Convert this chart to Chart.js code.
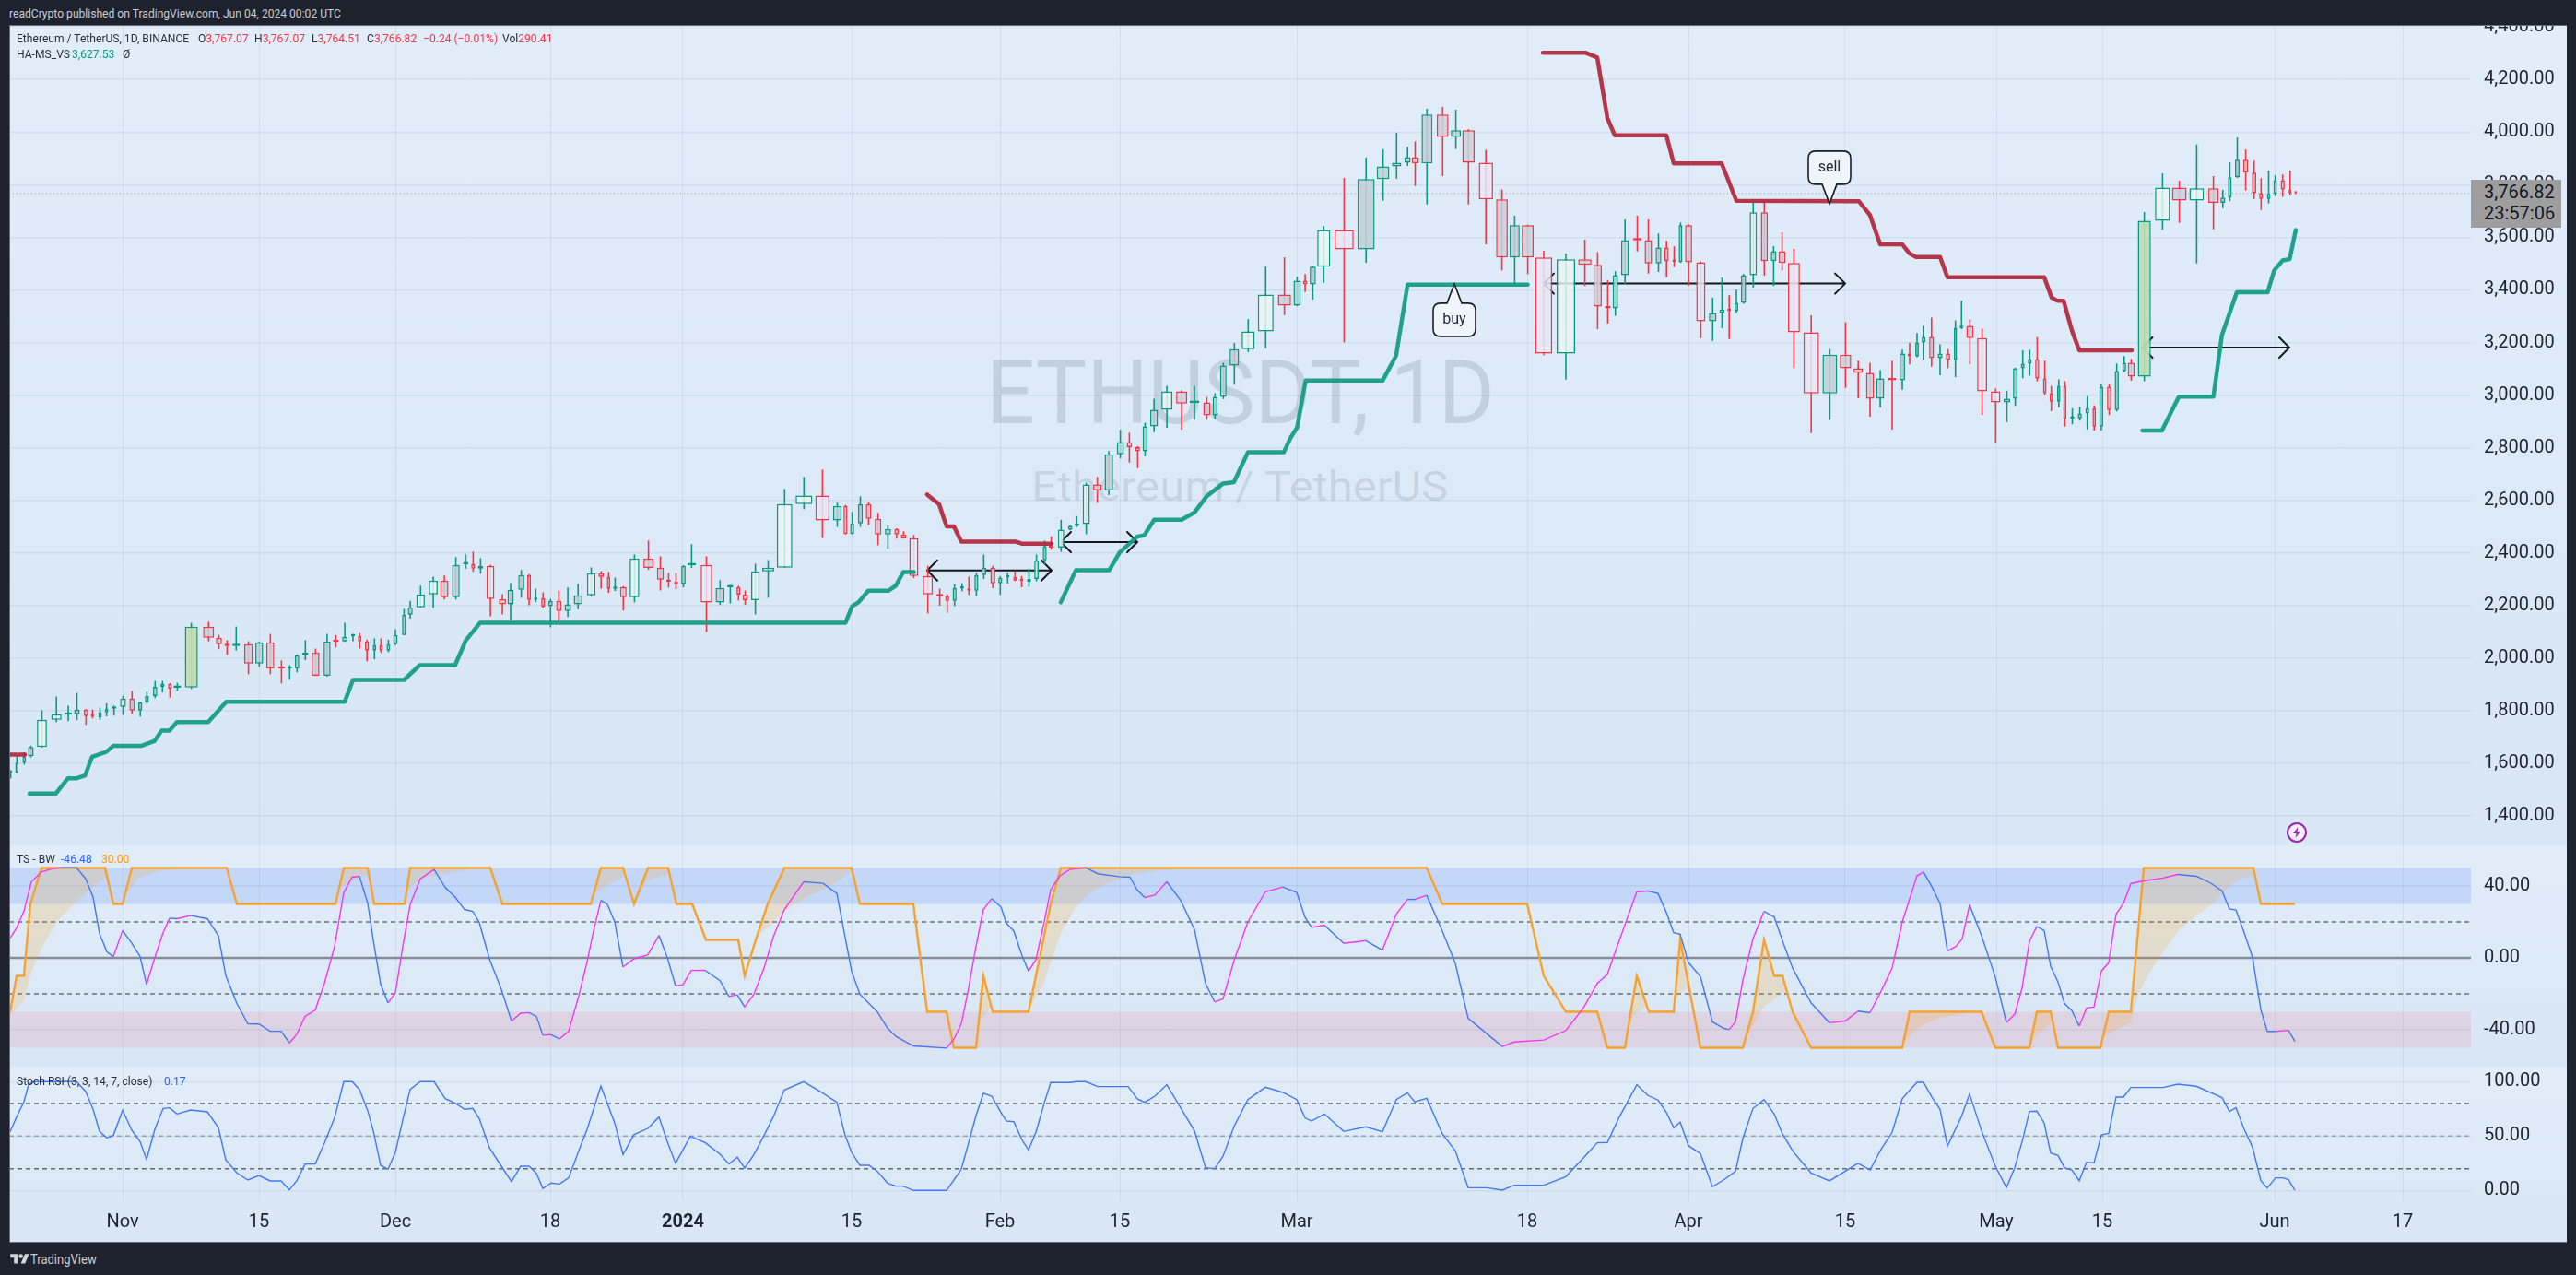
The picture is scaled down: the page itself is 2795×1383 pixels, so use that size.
<!DOCTYPE html>
<html><head><meta charset="utf-8">
<style>
html,body{margin:0;padding:0;background:#1e222d;overflow:hidden;width:2795px;height:1383px;font-family:Roboto,sans-serif}
.abs{position:absolute;white-space:nowrap}
.pane{position:absolute;left:10px;width:2775px;background:linear-gradient(180deg,#e1edf9,#d8e6f5)}
canvas{position:absolute;left:10px;display:block}
.t{position:absolute;white-space:nowrap;font-size:13px;color:#2a2e39;line-height:16px;transform:scaleX(.93);transform-origin:left center}
.r{color:#f23645}.g{color:#089981}.b{color:#2962ff}.o{color:#ff9800}
</style>
<script src="https://cdn.jsdelivr.net/npm/chart.js@4/dist/chart.umd.js"></script>
</head><body>
<div class="t" style="left:10px;top:7px;color:#c9cbd2">readCrypto published on TradingView.com, Jun 04, 2024 00:02 UTC</div>
<div class="pane" style="top:27px;height:890px"></div>
<div class="pane" style="top:917px;height:240px"></div>
<div class="pane" style="top:1157px;height:191px"></div>
<div class="abs" style="left:10px;top:27px;width:2775px;height:1321px;box-sizing:border-box;border:1px solid #6a6d78;border-right:0;z-index:6;pointer-events:none"></div>
<div class="abs" id="wm1" style="left:1070px;top:370px;font-size:96px;line-height:112px;color:rgba(42,60,90,.15);transform:scaleX(.97);transform-origin:left center">ETHUSDT, 1D</div>
<div class="abs" id="wm2" style="left:1119px;top:501px;font-size:45px;line-height:54px;color:rgba(42,60,90,.13);transform:scaleX(1.09);transform-origin:left center">Ethereum / TetherUS</div>
<canvas id="cMain" width="2775" height="890" style="top:27px"></canvas>
<canvas id="cTsi" width="2775" height="240" style="top:917px"></canvas>
<canvas id="cStoch" width="2775" height="191" style="top:1157px"></canvas>
<div class="t" style="left:18px;top:34px">Ethereum / TetherUS, 1D, BINANCE</div>
<div class="t" style="left:215px;top:34px">O<span class="r">3,767.07</span></div>
<div class="t" style="left:276px;top:34px">H<span class="r">3,767.07</span></div>
<div class="t" style="left:338px;top:34px">L<span class="r">3,764.51</span></div>
<div class="t" style="left:398px;top:34px">C<span class="r">3,766.82</span></div>
<div class="t r" style="left:459px;top:34px">−0.24 (−0.01%)</div>
<div class="t" style="left:545px;top:34px">Vol<span class="r">290.41</span></div>
<div class="t" style="left:18px;top:51px">HA-MS_VS</div>
<div class="t g" style="left:78px;top:51px">3,627.53</div>
<div class="t" style="left:133px;top:51px">Ø</div>
<div class="t" style="left:18px;top:924px">TS - BW</div>
<div class="t b" style="left:66px;top:924px">-46.48</div>
<div class="t o" style="left:110px;top:924px">30.00</div>
<div class="t" style="left:18px;top:1165px">Stoch RSI (3, 3, 14, 7, close)</div>
<div class="t b" style="left:178px;top:1165px">0.17</div>
<div class="abs" style="left:2681px;top:195px;width:98px;height:52px;background:#9e9e9e;z-index:5;color:#131722;font-size:20px;line-height:23px">
<div style="position:absolute;left:14px;top:2px">3,766.82</div><div style="position:absolute;left:14px;top:25px">23:57:06</div></div>
<svg class="abs" style="left:2480px;top:891px;z-index:5" width="24" height="24" viewBox="0 0 24 24"><circle cx="12" cy="12" r="10" fill="#f3eef8" stroke="#9c27b0" stroke-width="2"/><path d="M13.5 6 8 13h3.5l-1 5L16 11h-3.5z" fill="#9c27b0"/></svg>
<svg class="abs" style="left:11px;top:1358px" width="21" height="16" viewBox="0 0 36 28"><path fill="#d1d4dc" d="M14 22H7V11H0V4h14v18zM28 22h-8l7.5-18h8L28 22z"/><circle cx="20" cy="8" r="4" fill="#d1d4dc"/></svg>
<div class="t" style="left:33px;top:1358px;color:#c9cbd2;font-size:14px">TradingView</div>
<script>
// ---------- sessions (Oct 19 2023 .. Jun 4 2024), position on the reference's non-uniform time axis ----------
const sessionPos=[11.6,18.3,26.3,33.5,45.5,61.2,74.1,83.5,93.3,100.4,
108.5,115.6,123.7,133.5,143.3,152.2,159.4,168.3,176.3,184.4,
192.4,207.6,226.3,237.5,246.4,256.3,269.6,281.3,293.3,305.4,
314.3,322.3,331.3,342.4,354.9,364.3,374.1,383,390.2,398.2,
406.3,413.4,421.4,429,438.4,445.1,456.3,470.1,482.1,494.6,
505.4,513.4,521.4,532.1,545.1,554,565.6,574.1,581.3,589.3,
597.3,606.3,616.1,627.2,641.5,652.2,660.3,667.4,676.3,688.4,
703.6,716.5,725.4,733.5,741.5,750.4,766.5,781.3,792.4,801.3,
808.5,819.6,833.5,851.3,872.3,892.4,908.5,917.4,924.6,933.5,
942.4,952.7,963.4,972.8,980.4,991.5,1006.7,1019.6,1027.7,1035.7,
1043.8,1051.3,1059.4,1067.4,1077.2,1085.3,1093.3,1101.3,1108.5,1116.5,
1124.6,1133.5,1140.6,1151.3,1161.2,1168.3,1178.6,1190.6,1203.1,1215.6,
1225.4,1234.4,1242.4,1252.2,1266.1,1282.1,1296,1309.4,1318.3,1327.3,
1339.3,1354.3,1373.3,1393.6,1407.4,1416.1,1424.4,1436.3,1458.4,1482.2,
1500.6,1515.3,1527.2,1535.5,1548.3,1565.3,1579.6,1593.3,1612.2,1629.6,
1643.4,1657.6,1675,1699,1719.6,1733.4,1744.4,1752.7,1763.2,1776.5,
1788.5,1799.5,1808.2,1816.5,1823.4,1832.1,1845.4,1858.3,1868.4,1876.2,
1884,1891.8,1902.3,1914.3,1924.4,1933.6,1946.4,1965.2,1985.4,2002.4,
2016.2,2029,2040.1,2053,2064,2072,2080,2087.2,2095.8,2105,
2113.6,2121.7,2128.3,2137.4,2150.6,2165.3,2177.5,2186.6,2194.7,2202.3,
2210.4,2218.6,2225.7,2233.8,2240.4,2248.5,2256.6,2264.7,2272.3,2279.9,
2288.5,2296.7,2304.8,2312.4,2326.6,2346.4,2364.6,2383.4,2401.6,2411.8,
2419.4,2427.5,2436.6,2445.7,2453.3,2461.5,2468.6,2476.7,2484.8,2490.9];
const opens=[1565,1565,1602,1627,1662,1765,1785,1786,1804,1780,
1775,1793,1807,1814,1846,1800,1832,1856,1891,1902,
1887,1888,2119,2077,2053,2046,2053,1979,2060,1962,
1960,1961,2011,2021,1933,2064,2063,2083,2084,2063,
2028,2049,2028,2053,2088,2165,2193,2242,2295,2232,
2357,2358,2340,2351,2225,2204,2260,2316,2221,2228,
2197,2218,2179,2204,2239,2323,2309,2263,2270,2232,
2379,2344,2298,2290,2281,2353,2354,2211,2269,2270,
2242,2220,2330,2344,2586,2618,2523,2579,2472,2512,
2586,2530,2470,2491,2470,2456,2312,2242,2235,2218,
2264,2265,2256,2316,2344,2284,2306,2309,2295,2290,
2301,2372,2425,2420,2488,2502,2509,2660,2637,2775,
2821,2802,2786,2881,2944,3014,2970,2972,2923,2993,
3112,3175,3242,3382,3340,3435,3421,3488,3628,3554,
3821,3870,3884,3905,3881,4067,3982,4007,3884,3744,
3523,3646,3523,3158,3516,3495,3337,3330,3456,3590,
3589,3501,3561,3509,3505,3646,3505,3281,3312,3325,
3319,3351,3456,3695,3509,3547,3502,3239,3006,3154,
3102,3084,2986,3063,3056,3158,3147,3200,3221,3140,
3158,3133,3255,3263,3217,3014,2972,2986,3102,3119,
3137,3063,3007,2975,3035,2911,2912,2930,2950,2880,
3032,2943,3091,3123,3070,3663,3789,3740,3786,3731,
3751,3828,3895,3846,3768,3746,3765,3817,3782,3767.07];
const highs=[1573,1626,1642,1667,1801,1854,1819,1868,1806,1804,
1811,1828,1819,1857,1875,1835,1871,1913,1913,1905,
1906,2134,2138,2088,2068,2120,2064,2063,2092,1991,
1973,2014,2068,2036,2092,2088,2134,2092,2095,2070,
2075,2075,2070,2110,2187,2218,2275,2310,2314,2384,
2394,2405,2380,2354,2243,2285,2335,2319,2264,2250,
2225,2257,2268,2282,2345,2331,2328,2306,2274,2394,
2447,2387,2324,2324,2353,2433,2387,2296,2278,2275,
2257,2359,2373,2643,2689,2717,2591,2582,2556,2615,
2593,2552,2506,2494,2482,2468,2351,2264,2242,2281,
2285,2310,2324,2394,2351,2312,2324,2331,2312,2338,
2394,2447,2463,2526,2504,2540,2667,2689,2787,2868,
2857,2806,2895,2986,3035,3018,3035,2993,3007,3123,
3198,3289,3489,3524,3450,3460,3491,3643,3826,3903,
3935,3998,3945,3965,4089,4096,4085,4011,3933,3782,
3682,3648,3549,3538,3591,3544,3436,3471,3668,3682,
3668,3615,3587,3566,3656,3650,3508,3370,3447,3380,
3401,3460,3733,3733,3566,3619,3556,3303,3175,3277,
3131,3123,3095,3131,3173,3199,3236,3263,3295,3193,
3175,3284,3359,3288,3253,3025,3017,3104,3170,3172,
3221,3131,3035,3060,3053,2950,2955,2996,2961,3043,
3043,3120,3148,3138,3696,3843,3815,3953,3833,3780,
3885,3980,3934,3892,3825,3854,3836,3839,3854,3767.07];
const lows=[1542,1562,1595,1623,1659,1757,1760,1764,1746,1771,
1764,1778,1781,1784,1788,1778,1827,1848,1869,1850,
1876,1883,2064,2034,2012,2029,1939,1967,1939,1904,
1918,1946,1992,1932,1930,2041,2062,2064,2036,1988,
1995,2020,2023,2049,2087,2150,2192,2191,2223,2223,
2339,2328,2321,2159,2166,2145,2229,2201,2213,2192,
2117,2140,2156,2185,2234,2264,2248,2255,2181,2212,
2336,2257,2268,2262,2269,2343,2099,2202,2208,2219,
2203,2166,2229,2343,2566,2457,2499,2470,2470,2499,
2506,2429,2415,2454,2454,2304,2170,2199,2173,2198,
2254,2240,2236,2301,2266,2240,2283,2293,2269,2271,
2292,2357,2412,2404,2486,2498,2471,2591,2620,2760,
2743,2722,2767,2859,2876,2869,2906,2906,2909,2985,
3041,3164,3178,3304,3338,3392,3363,3427,3201,3503,
3739,3822,3871,3795,3725,3833,3936,3725,3573,3474,
3415,3460,3152,3059,3415,3251,3272,3301,3423,3546,
3462,3468,3448,3487,3504,3416,3216,3206,3255,3213,
3312,3347,3409,3454,3415,3474,3102,2856,2906,3027,
2988,2918,2953,2869,3020,3117,3144,3134,3108,3076,
3103,3068,3251,3117,2924,2819,2897,2959,3064,3074,
3053,3001,2939,2953,2880,2889,2903,2869,2865,2865,
2924,2938,3088,3055,3053,3628,3655,3501,3630,3711,
3737,3826,3778,3746,3704,3729,3757,3754,3760,3764.51];
const closes=[1567,1602,1627,1662,1765,1786,1787,1804,1779,1778,
1793,1807,1814,1846,1800,1832,1856,1891,1902,1884,
1889,2119,2077,2053,2046,2053,1979,2060,1961,1960,
1962,2011,2021,1933,2063,2062,2081,2085,2063,2028,
2049,2028,2053,2088,2165,2193,2242,2295,2232,2354,
2359,2340,2351,2225,2204,2260,2316,2221,2228,2195,
2218,2179,2204,2239,2323,2309,2263,2270,2232,2379,
2343,2298,2290,2281,2351,2355,2211,2267,2271,2241,
2220,2330,2344,2586,2618,2523,2579,2472,2512,2586,
2530,2470,2491,2470,2455,2312,2242,2235,2218,2267,
2266,2256,2316,2344,2284,2305,2310,2294,2293,2301,
2372,2425,2420,2488,2502,2509,2660,2637,2775,2821,
2802,2786,2881,2944,3014,2968,2973,2923,2993,3112,
3175,3242,3382,3340,3435,3421,3488,3628,3554,3821,
3870,3884,3905,3881,4067,3982,4007,3884,3744,3523,
3646,3523,3158,3516,3495,3337,3330,3456,3589,3588,
3501,3561,3509,3507,3646,3505,3281,3312,3325,3319,
3351,3456,3695,3509,3547,3502,3239,3006,3154,3102,
3084,2986,3063,3056,3158,3147,3200,3221,3140,3158,
3133,3255,3263,3217,3014,2972,2986,3102,3119,3137,
3063,3007,2975,3035,2910,2913,2930,2950,2880,3032,
2943,3091,3123,3070,3663,3789,3740,3786,3731,3751,
3828,3895,3846,3768,3746,3765,3817,3782,3768,3766.82];
// volume classes of sessions, 1-based
const quietSessions=[2,5,6,14,26,47,48,65,70,82,83,84,85,111,114,117,125,132,133,138,154,173,216,218];
const heavySessions=[25,54,77,86,88,96,97,139,149,153,167,177,178,195,196];
const climaxSessions=[22,215];
// HA-MS_VS stops (null = break)
const bullStopX=[32,60.7,73.7,83.5,92.4,100,115.2,122.8,153.1,167.4,175.4,183.9,192,225.9,245.5,374,383,438.4,455.4,493.8,505.4,521,917.4,924.6,932,942,963.8,971.9,980,991.5,991.5,
1150.9,1167.4,1203.6,1214.7,1233.5,1241.5,1252.3,1282.1,1296,1309.4,1327.2,1338.8,1354,1392.9,1400,1407.4,1416.6,1500.1,1514.8,1527.2,1657.6,1657.6,
2324.5,2345.8,2364.1,2401.6,2410.8,2427,2460.4,2467.5,2476.7,2484.3,2490.9];
const bullStopY=[1485,1485,1543,1543,1554,1625,1643,1666,1666,1684,1724,1724,1757,1757,1834,1834,1917,1917,1973,1973,2067,2134.5,2134.5,2197,2214,2256,2256,2275,2327,2327,null,
2212,2334.5,2334.5,2401,2461,2467,2526,2526,2554,2616,2664,2669,2782.5,2782.5,2836,2877,3055,3055,3150,3420,3420,null,
2865,2865,2994,2994,3228,3391,3391,3474,3512,3517,3627.53];
const bearStopX=[10,27,27,1006,1019,1027,1035,1043,1102,1108.5,1141,1141,1674,1720,1733,1744,1752,1808,1816,1868,1884,2017,2029,2040,2064,2072,2079,2105,2113,2218,2226,2232,2239,2248,2256,2313];
const bearStopY=[1633,1633,null,2622,2585,2501,2501,2443,2443,2435,2435,null,4302,4302,4284,4053,3988,3988,3881,3881,3739,3737,3684,3573,3573,3538,3525,3525,3448,3448,3371,3359,3359,3246,3170,3170];
// TS - BW pane
const tsX=[11,18,26,34,45,57,66,83,93,101,108,116,123,133,143,152,159,168,177,184,192,207,225,237,245,257,269,281,293,305,314,322,331,342,352,363,373,382,390,399,405,413,421,429,437,445,456,471,483,494,504,513,520,531,544,555,565,574,582,589,598,607,617,628,637,644,652,659,667,676,688,703,715,724,733,741,750,765,781,791,800,808,818,829,839,851,872,893,908,917,924,933,
952,963,972,991,1027,1035,1043,1050,1059,1067,1076,1086,1092,1100,1109,1116,1124,1133,1140,1150,1161,1178,1191,1214,1226,1234,1242,1253,1266,1281,1296,1308,1318,1327,1339,1354,1373,1392,1407,1416,1423,1437,1458,1482,1500,1515,1527,1535,1548,1565,1579,1593,1630,1643,1675,1699,1718,1733,1744,1757,1776,1788,1799,1808,1816,1823,1832,1845,1858,1870,
1876,1883,1891,1902,1914,1925,1935,1945,1965,1985,2002,2016,2029,2041,2053,2064,2080,2087,2096,2105,2113,2122,2129,2137,2150,2165,2177,2186,2194,2202,2210,2218,2225,2233,2240,2248,2256,2264,2272,2280,2288,2296,2304,2312,2326,2347,2363,2383,2398,2411,2419,2426,2435,2444,2453,2460,2469,2483,2490];
const tsValue=[11.1,16.6,26,42.3,47.8,49.7,50.2,50.2,44,33.7,13.5,3.3,.7,15.2,8.1,.7,-14.7,.3,14,22.1,21.8,23.5,21.8,12.3,-9.9,-25.4,-36.7,-36.8,-40.8,-40.8,-47.3,-42.5,-32.5,-29,-14.2,6.3,36.3,44.9,45.4,30.3,9.8,-14.6,-25,-19.4,6.3,29.5,44,49.2,39.2,33.7,26.9,25.9,19.7,-.5,-17.6,-35.1,-30.7,-30.5,-32.5,-43,-42.7,-45.1,-40.8,-21.1,-2.2,14.9,32,29.8,20,-5,-.5,1.7,12.5,.3,-15.6,-14.9,-7,-6.9,-12.5,-21.4,-20.6,-27.4,-20.2,-5.7,11.5,26.9,42.3,41.5,35.8,11.5,-7.4,-20.2,
-30.1,-39.1,-43.7,-49,-50.2,-45.1,-36.8,-19.4,6.3,26.9,32.9,28.3,19.2,14.9,1.2,-7.4,-1,20,38,45.7,49.2,50.2,46.8,45.2,44.9,37.7,33.6,34.9,42.3,32,15.8,-14.2,-24.5,-22.8,-1.4,20,36.8,39.4,36.3,22.6,17,18.2,8.1,9.6,4.3,24.3,32.5,32.5,34.8,14.9,-3.1,-33.6,-49.3,-46.8,-45.7,-40.4,-27.9,-14.2,-9.1,9.8,36.8,37.2,35.8,25.2,14,13.2,-2.6,-10.4,-35.6,-39.1,
-39.9,-35.6,-12.5,10.6,25.9,22.8,8.1,-5.7,-25,-36.1,-35.1,-29.6,-30.5,-18.5,-5.7,20,45.6,47.8,39.7,30.3,3.8,6.3,10.6,29.5,12.3,-10.8,-36,-31.3,-16.8,9.3,17.5,15.2,-4.8,-13.4,-25.4,-29.3,-37.9,-27.9,-27.4,-7.4,-2.6,24.3,30.3,41.3,42.8,44.4,46.4,45.4,41.8,37.2,27.2,26.6,14,.3,-28.8,-40.9,-40.9,-40.3,-46.48];
const bwX=[11,18,26,33,45,114,123,133,143,246,257,364,373,399,406,439,445,532,545,641,652,676,688,703,725,734,751,766,801,808,820,833,851,924,933,991,1006,1027,1035,1059,1067,1077,1116,1140,1151,1548,1565,1657,1675,1699,1733,1744,1763,1776,1789,1816,1823,1845,1891,1902,1914,1925,1934,1945,1965,2064,2072,2150,2165,2202,2210,2225,2233,2279,2288,2312,2326,2445,2453,2490];
const bwValue=[-30,-10,-10,30,50,50,30,30,50,50,30,30,50,50,30,30,50,50,30,30,50,50,30,50,50,30,30,10,10,-10,10,30,50,50,30,30,-30,-30,-50,-50,-10,-30,-30,30,50,50,30,30,-10,-30,-30,-50,-50,-10,-30,-30,10,-50,-50,-30,10,-10,-10,-30,-50,-50,-30,-30,-50,-50,-30,-30,-50,-50,-30,-30,50,50,30,30];
// slow edge of the shaded TS-BW zones
const bwSlowEdges=[
 [[11,26,33,45,63,81,96,114,116],[-32.2,-23.6,-9.1,5.5,20.9,30.3,37.2,44.4,45.4]],
 [[135,150,174,210,246],[34,44.4,48.3,49.7,50]],
 [[368,384,401],[39,43.2,46.6]],
 [[441,456,480,510,532],[37,44,46.6,49.2,50]],
 [[644,659,676,679],[35,40.6,44.9,45]],
 [[690,703,725,726],[33,43.2,46.6,47.8]],
 [[821,839,851,872,893,911,925],[12,19.2,26,32.9,38,43.2,49.2]],
 [[1062,1070,1075],[-35,-31,-27]],
 [[1117,1131,1140,1152,1167,1179,1197,1224,1254,1290,1350],[-28,-15.9,-2.2,14.9,27.8,34.6,40.6,45.7,48.3,49.5,50]],
 [[1767,1773,1787],[-38,-31,-27]],
 [[1817,1825,1832],[-24,-18.5,-16.8]],
 [[1895,1903,1914,1924,1934,1939],[-44.2,-36.5,-27,-23.6,-19.4,-19]],
 [[2066,2077,2089,2107,2131,2150],[-46.8,-40.8,-36.5,-33,-31,-30]],
 [[2204,2215,2225,2227],[-45,-40.8,-36.5,-35]],
 [[2282,2293,2312,2320,2329,2344,2365,2383,2401,2422,2434,2445],[-44,-40.8,-36,-21,-10.8,1.2,15.8,23.5,30.3,41.5,44.4,46]]
];
const tsBands=[[30,50],[-50,-30]];
const tsGuides=[20,-20];
// Stoch RSI pane
const stochX=[11,18,26,31,37,83,93,101,108,116,123,133,143,152,159,168,177,184,192,207,225,237,245,257,269,281,293,305,314,322,331,342,352,363,373,382,390,399,405,413,421,429,437,445,456,471,483,494,504,513,520,531,544,555,565,574,582,589,598,607,617,628,637,644,652,659,667,676,688,703,715,724,733,749,765,781,791,800,808,818,829,839,851,872,893,908,917,924,933,
943,952,963,972,980,991,1027,1035,1043,1050,1059,1067,1076,1086,1092,1100,1109,1116,1124,1133,1140,1161,1168,1178,1191,1224,1234,1242,1253,1266,1281,1296,1308,1318,1327,1339,1354,1373,1392,1407,1416,1423,1437,1458,1482,1500,1515,1527,1535,1548,1565,1579,1593,1613,1630,1643,1675,1699,1718,1733,1744,1757,1776,1788,1799,1808,1816,1823,1832,1845,1858,1870,
1883,1891,1902,1914,1925,1934,1945,1965,1985,2016,2029,2041,2053,2064,2080,2087,2096,2105,2113,2128,2137,2150,2165,2177,2186,2194,2202,2210,2218,2225,2233,2240,2248,2256,2264,2272,2280,2288,2296,2304,2312,2347,2363,2383,2398,2411,2419,2426,2435,2444,2453,2460,2469,2477,2483,2490];
const stochValue=[54,67.5,81.6,97.2,100,100,91,74.6,54.2,48.3,50.6,73.7,55.4,44.9,28.5,56.2,75.4,76,70.3,74,72.3,57.6,28,16.1,9.6,13.8,8.8,8.8,.6,9,24.3,24.3,43.5,66.7,100,100,92.9,73.2,54.8,23.2,19.5,35,64.7,92.9,100,100,84.5,80.2,74.6,75.4,66.1,39.3,22.3,8.2,22.3,22.3,15.8,1.7,6.8,5.9,11.6,36.4,56.2,74.6,95.8,80.2,61.9,33,51.4,57,67.5,44.9,24.9,49.7,44,33.6,24.3,30.5,20.6,33,50.6,67.5,92.4,100,89.3,81.1,50.6,35,23.2,
23.2,17.5,6.8,4,4,0,0,9.6,19.5,40.7,68.9,89.3,86.7,71.8,63.8,63.3,46.3,37.3,53.4,80.2,99.2,99.2,100,100,95.5,95.5,84.2,81.1,86.7,97.2,76,54.8,20.9,20.1,31.4,59,83.6,94.9,90.1,83.6,66.7,63.8,70.3,54.2,58.5,54,83.6,89.8,81.4,84.7,52,36.4,2.5,2.5,.3,4.8,4.8,12.7,29.9,43.8,44.1,67.5,97.2,87.3,83.1,71.8,57.6,62.7,41.2,33.9,3.4,9.6,
17.5,47.7,75.4,83.6,70.3,52,36.4,16.1,8.8,24.9,18.9,37.9,53.4,84.5,99.4,99.4,85.9,74.6,40.7,67.5,88.7,54.8,22.3,2.5,20.9,44.9,72.6,72.9,61.9,34.5,32.2,20.9,18.9,9,26,25.4,51.1,52.5,85.9,85.9,94.6,94.6,97.7,95.8,90.1,85.3,72.6,76,56.2,39.8,9,2.3,11.6,11.6,9.9,.17];
const stochGuides=[80,50,20];
// axes
const timeTickPos=[133,281,429,597,741,924,1085,1215,1407,1657,1832,2002,2166,2281,2468,2607];
const timeTickLabels=['Nov','15','Dec','18','2024','15','Feb','15','Mar','18','Apr','15','May','15','Jun','17'];
const priceTicks=[1400,1600,1800,2000,2200,2400,2600,2800,3000,3200,3400,3600,3800,4000,4200,4400];
const tsTicks=[40,0,-40];
const stochTicks=[100,50,0];
const lastPrice=3766.82;
// drawings
const rangeArrows=[[1006,1141,2333],[1151,1234,2441],[1675,2002,3424],[2324.5,2484,3181]];
const callouts=[['buy',1578,3423,1],['sell',1985,3728,-1]];

const X_MIN=10,X_MAX=2681,FONT='Roboto, sans-serif',TXT='#1f2430';
const GRID='rgba(110,130,165,0.13)';
const UP='#089981',DN='#f23645';
const zip=(xs,ys)=>xs.map((x,i)=>({x,y:ys[i]}));
const isUp=i=>closes[i]>=opens[i];
function bodyFill(i){const n=i+1;
  if(climaxSessions.includes(n))return 'rgba(190,219,178,.93)';
  if(isUp(i))return quietSessions.includes(n)?'rgba(236,245,243,.82)':'rgba(196,206,214,.88)';
  return heavySessions.includes(n)?'rgba(233,231,247,.85)':'rgba(204,208,220,.88)';}

class CandleController extends Chart.BarController{
  _calculateBarIndexPixels(index,ruler){
    const p=ruler.pixels,c=p[index];
    const prev=index>0?c-p[index-1]:p[index+1]-c;
    const next=index<p.length-1?p[index+1]-c:prev;
    const ds=this.getDataset();
    const size=ds.wick?1.6:Math.max(3,(prev+next)/2*1.1-4.5);
    return {base:c-size/2,head:c+size/2,center:c,size};
  }
}
CandleController.id='candle';
CandleController.defaults=Chart.BarController.defaults;
CandleController.overrides=Chart.BarController.overrides;
Chart.register(CandleController);

function xScale(showLabels){return {type:'linear',min:X_MIN,max:X_MAX,offset:false,
  position:'bottom',
  border:{display:false},
  grid:{color:GRID,lineWidth:1,drawTicks:false,offset:false},
  afterBuildTicks:s=>{s.ticks=timeTickPos.map(v=>({value:v}))},
  afterFit:s=>{s.height=showLabels?45:0;s.paddingLeft=0;s.paddingRight=0},
  ticks:{display:showLabels,autoSkip:false,maxRotation:0,minRotation:0,padding:11,color:TXT,
    callback:(v,i)=>timeTickLabels[i],
    font:c=>({family:FONT,size:20,weight:(c.tick&&c.tick.label==='2024')?'bold':'normal'})}};}
function yScale(min,max,list,fmt){return {type:'linear',position:'right',min,max,
  border:{display:false},
  grid:{color:GRID,lineWidth:1.5,drawTicks:false},
  afterBuildTicks:s=>{s.ticks=list.map(v=>({value:v}))},
  afterFit:s=>{s.width=104;s.paddingTop=0;s.paddingBottom=0},
  ticks:{autoSkip:false,padding:14,color:TXT,callback:fmt,font:{family:FONT,size:20}}};}
const money=v=>v.toLocaleString('en-US',{minimumFractionDigits:2,maximumFractionDigits:2});
const base={responsive:false,animation:false,devicePixelRatio:1,events:[],
  layout:{padding:0},plugins:{legend:{display:false},tooltip:{enabled:false}}};

const mainDecor={id:'mainDecor',
  beforeDatasetsDraw(ch){const {ctx,scales:{x,y},chartArea:a}=ch;ctx.save();
    ctx.setLineDash([1,3]);ctx.lineWidth=1;ctx.strokeStyle='#8d93a0';
    const py=y.getPixelForValue(lastPrice);ctx.beginPath();ctx.moveTo(a.left,py);ctx.lineTo(a.right,py);ctx.stroke();
    ctx.setLineDash([]);ctx.lineWidth=2;ctx.strokeStyle='#131722';ctx.lineCap='round';
    for(const [x1,x2,p] of rangeArrows){const l=x.getPixelForValue(x1),r=x.getPixelForValue(x2),m=y.getPixelForValue(p);
      ctx.beginPath();ctx.moveTo(l,m);ctx.lineTo(r,m);
      ctx.moveTo(l+11,m-11);ctx.lineTo(l,m);ctx.lineTo(l+11,m+11);
      ctx.moveTo(r-11,m-11);ctx.lineTo(r,m);ctx.lineTo(r-11,m+11);ctx.stroke();}
    ctx.restore();},
  afterDatasetsDraw(ch){const {ctx,scales:{x,y}}=ch;ctx.save();
    for(const [txt,xv,p,dir] of callouts){const tx=x.getPixelForValue(xv),ty=y.getPixelForValue(p);
      const w=46,h=36,gap=21,by=dir>0?ty+gap:ty-gap-h,l=tx-w/2,t=by,r=l+w,b=t+h,rad=8,n=8;
      ctx.beginPath();ctx.moveTo(l+rad,t);
      if(dir>0){ctx.lineTo(tx-n,t);ctx.lineTo(tx,ty);ctx.lineTo(tx+n,t);}
      ctx.lineTo(r-rad,t);ctx.quadraticCurveTo(r,t,r,t+rad);ctx.lineTo(r,b-rad);ctx.quadraticCurveTo(r,b,r-rad,b);
      if(dir<0){ctx.lineTo(tx+n,b);ctx.lineTo(tx,ty);ctx.lineTo(tx-n,b);}
      ctx.lineTo(l+rad,b);ctx.quadraticCurveTo(l,b,l,b-rad);ctx.lineTo(l,t+rad);ctx.quadraticCurveTo(l,t,l+rad,t);ctx.closePath();
      ctx.fillStyle='#eff5fb';ctx.fill();ctx.lineWidth=1.6;ctx.strokeStyle='#1b1e26';ctx.stroke();
      ctx.fillStyle='#1f2430';ctx.font='16px '+FONT;ctx.textAlign='center';ctx.textBaseline='middle';ctx.fillText(txt,tx,t+h/2);}
    ctx.restore();}};

new Chart(document.getElementById('cMain'),{type:'line',plugins:[mainDecor],
 data:{datasets:[
  {type:'line',label:'HA-MS_VS bull',data:zip(bullStopX,bullStopY),borderColor:'rgba(16,155,130,.93)',borderWidth:4.5,pointRadius:0,tension:0,borderCapStyle:'round',borderJoinStyle:'round',order:1,spanGaps:false},
  {type:'line',label:'HA-MS_VS bear',data:zip(bearStopX,bearStopY),borderColor:'rgba(178,40,60,.93)',borderWidth:4.5,pointRadius:0,tension:0,borderCapStyle:'round',borderJoinStyle:'round',order:1,spanGaps:false},
  {type:'candle',label:'bodies',data:sessionPos.map((x,i)=>({x,y:[opens[i],closes[i]]})),grouped:false,
    backgroundColor:c=>bodyFill(c.dataIndex),borderColor:c=>isUp(c.dataIndex)?UP:DN,borderWidth:1.5,borderSkipped:false,minBarLength:2.5,order:2},
  {type:'candle',wick:true,label:'wicks',data:sessionPos.map((x,i)=>({x,y:[lows[i],highs[i]]})),grouped:false,
    backgroundColor:c=>isUp(c.dataIndex)?UP:DN,borderWidth:0,order:3}
 ]},
 options:{...base,scales:{x:xScale(false),y:yScale(1287.7,4407.7,priceTicks,money)}}});

const orangeAt=x=>{for(let i=1;i<bwX.length;i++){if(x<=bwX[i]){const t=(x-bwX[i-1])/(bwX[i]-bwX[i-1]);return bwValue[i-1]+t*(bwValue[i]-bwValue[i-1]);}}return bwValue[bwValue.length-1]};
const fillSets=bwSlowEdges.map(([xs,ys])=>{
  const a=xs[0],b=xs[xs.length-1],pts=[{x:a,y:orangeAt(a)}];
  bwX.forEach((x,i)=>{if(x>a&&x<b)pts.push({x,y:bwValue[i]})});
  pts.push({x:b,y:orangeAt(b)});
  for(let i=xs.length-1;i>=0;i--)pts.push({x:xs[i],y:ys[i]});
  return {type:'line',data:pts,fill:'shape',backgroundColor:'rgba(255,152,0,.17)',borderWidth:0,pointRadius:0,tension:0,order:5};
});
const tsiDecor={id:'tsiDecor',beforeDatasetsDraw(ch){const {ctx,scales:{y},chartArea:a}=ch;ctx.save();
  tsBands.forEach(([lo,hi],i)=>{ctx.fillStyle=i===0?'rgba(41,98,255,.15)':'rgba(242,54,69,.11)';
    const t=y.getPixelForValue(hi),b=y.getPixelForValue(lo);ctx.fillRect(a.left,t,a.right-a.left,b-t);});
  ctx.setLineDash([5,4]);ctx.lineWidth=1.5;ctx.strokeStyle='#6d7078';
  tsGuides.forEach(v=>{const p=y.getPixelForValue(v);ctx.beginPath();ctx.moveTo(a.left,p);ctx.lineTo(a.right,p);ctx.stroke();});
  ctx.setLineDash([]);ctx.lineWidth=2.5;ctx.strokeStyle='#878b96';const z=y.getPixelForValue(0);ctx.beginPath();ctx.moveTo(a.left,z);ctx.lineTo(a.right,z);ctx.stroke();
  ctx.restore();}};
new Chart(document.getElementById('cTsi'),{type:'line',plugins:[tsiDecor],
 data:{datasets:[
  ...fillSets,
  {type:'line',label:'BW',data:zip(bwX,bwValue),borderColor:'#f7a22e',borderWidth:2.4,pointRadius:0,tension:0,order:2},
  {type:'line',label:'TS',data:zip(tsX,tsValue),borderColor:'#4477f2',borderWidth:1.4,pointRadius:0,tension:0,order:1,
    segment:{borderColor:c=>c.p1.parsed.y>c.p0.parsed.y?'#f536ee':'#4477f2'}}
 ]},
 options:{...base,scales:{x:xScale(false),y:yScale(-60.5,62.56,tsTicks,v=>v.toFixed(2))}}});

const stochDecor={id:'stochDecor',beforeDatasetsDraw(ch){const {ctx,scales:{y},chartArea:a}=ch;ctx.save();
  ctx.setLineDash([5,4]);ctx.lineWidth=1.5;
  stochGuides.forEach(v=>{ctx.strokeStyle=v===50?'#9aa0aa':'#65686f';const p=y.getPixelForValue(v);ctx.beginPath();ctx.moveTo(a.left,p);ctx.lineTo(a.right,p);ctx.stroke();});
  ctx.restore();}};
new Chart(document.getElementById('cStoch'),{type:'line',plugins:[stochDecor],
 data:{datasets:[{type:'line',label:'Stoch RSI',data:zip(stochX,stochValue),borderColor:'#4477f2',borderWidth:1.4,pointRadius:0,tension:0}]},
 options:{...base,scales:{x:xScale(true),y:yScale(-9.9,113.8,stochTicks,v=>v.toFixed(2))}}});
</script>
</body></html>
